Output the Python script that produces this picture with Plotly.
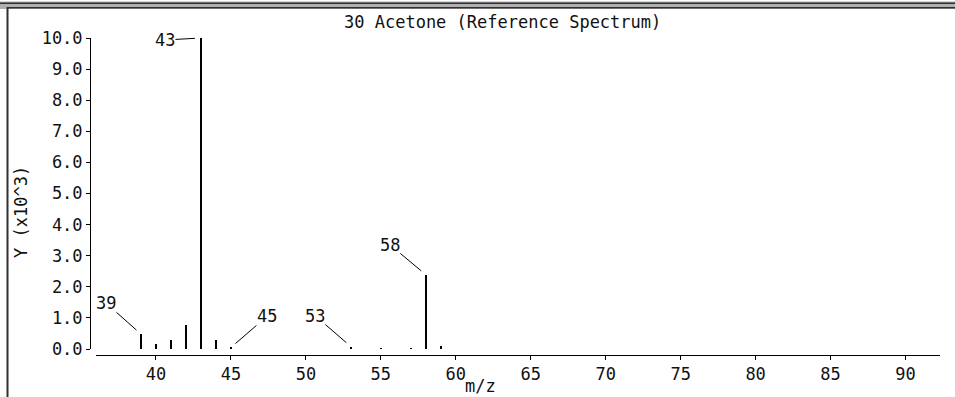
import plotly.graph_objects as go

# ---- data ----
mz = [39, 40, 41, 42, 43, 44, 45, 53, 55, 57, 58, 59]
intensity = [0.48, 0.16, 0.28, 0.77, 10.0, 0.28, 0.05, 0.08, 0.03, 0.03, 2.39, 0.1]
labeled_peaks = [39, 43, 45, 53, 58]
label_offsets = {39: (-35, -31), 43: (-36, 2), 45: (36, -31), 53: (-36, -31), 58: (-36, -30)}
y_ticks = [0, 1, 2, 3, 4, 5, 6, 7, 8, 9, 10]
x_ticks = [40, 45, 50, 55, 60, 65, 70, 75, 80, 85, 90]
title_text = "30 Acetone (Reference Spectrum)"
x_title = "m/z"
y_title = "Y (x10^3)"

W, H = 955, 397
L, R, T, B = 90, 15, 38, 42
PW, PH = W - L - R, H - T - B
FONT = dict(family="DejaVu Sans Mono", size=17, color="#111111")


def px(X):
    return (X - L) / PW


def py(Y):
    return (H - B - Y) / PH


fig = go.Figure()
fig.add_trace(go.Bar(x=mz, y=intensity, width=0.08,
                     marker=dict(color="black", line=dict(width=0)),
                     showlegend=False, hoverinfo="x+y"))

annotations = []
for m in labeled_peaks:
    v = intensity[mz.index(m)]
    ax, ay = label_offsets[m]
    annotations.append(dict(x=m, y=v, xref="x", yref="y", text=str(m),
                            showarrow=True, arrowhead=0, arrowwidth=1,
                            arrowcolor="black", ax=ax, ay=ay, standoff=6,
                            font=FONT, borderpad=0))

annotations += [
    dict(x=px(502), y=py(22), xref="paper", yref="paper", text=title_text,
         showarrow=False, font=FONT, xanchor="center", yanchor="middle"),
    dict(x=px(480), y=py(386), xref="paper", yref="paper", text=x_title,
         showarrow=False, font=FONT, xanchor="center", yanchor="middle"),
    dict(x=px(21), y=py(212), xref="paper", yref="paper", text=y_title,
         showarrow=False, font=FONT, textangle=-90, xanchor="center", yanchor="middle"),
]

shapes = [
    dict(type="rect", xref="paper", yref="paper", x0=px(0), x1=px(955), y0=py(9), y1=py(1.5),
         fillcolor="#b0b0b0", line=dict(width=0), layer="above"),
    dict(type="rect", xref="paper", yref="paper", x0=px(0), x1=px(955), y0=py(4), y1=py(2.5),
         fillcolor="#303030", line=dict(width=0), layer="above"),
    dict(type="rect", xref="paper", yref="paper", x0=px(7), x1=px(955), y0=py(8.5), y1=py(7),
         fillcolor="#303030", line=dict(width=0), layer="above"),
    dict(type="rect", xref="paper", yref="paper", x0=px(6.5), x1=px(8.5), y0=py(398), y1=py(7),
         fillcolor="#303030", line=dict(width=0), layer="above"),
]

fig.update_layout(
    width=W, height=H,
    margin=dict(l=L, r=R, t=T, b=B),
    paper_bgcolor="white", plot_bgcolor="white",
    font=FONT,
    bargap=0,
    xaxis=dict(domain=[6 / PW, 1], anchor="free", position=0,
               range=[36, 92.3], tickvals=x_ticks, ticktext=[str(v) for v in x_ticks],
               showline=True, linecolor="black", linewidth=1,
               ticks="outside", ticklen=4, tickcolor="black",
               showgrid=False, zeroline=False, tickfont=FONT),
    yaxis=dict(domain=[6 / PH, 1], anchor="free", position=0,
               range=[0, 10], tickvals=y_ticks, ticktext=[f"{v:.1f}" for v in y_ticks],
               showline=True, linecolor="black", linewidth=1,
               ticks="outside", ticklen=4, tickcolor="black",
               showgrid=False, zeroline=False, tickfont=FONT),
    annotations=annotations,
    shapes=shapes,
)

fig.write_html("out.html", config={"displayModeBar": False},
               post_script="document.body.style.margin='0';document.body.style.overflow='hidden';")
